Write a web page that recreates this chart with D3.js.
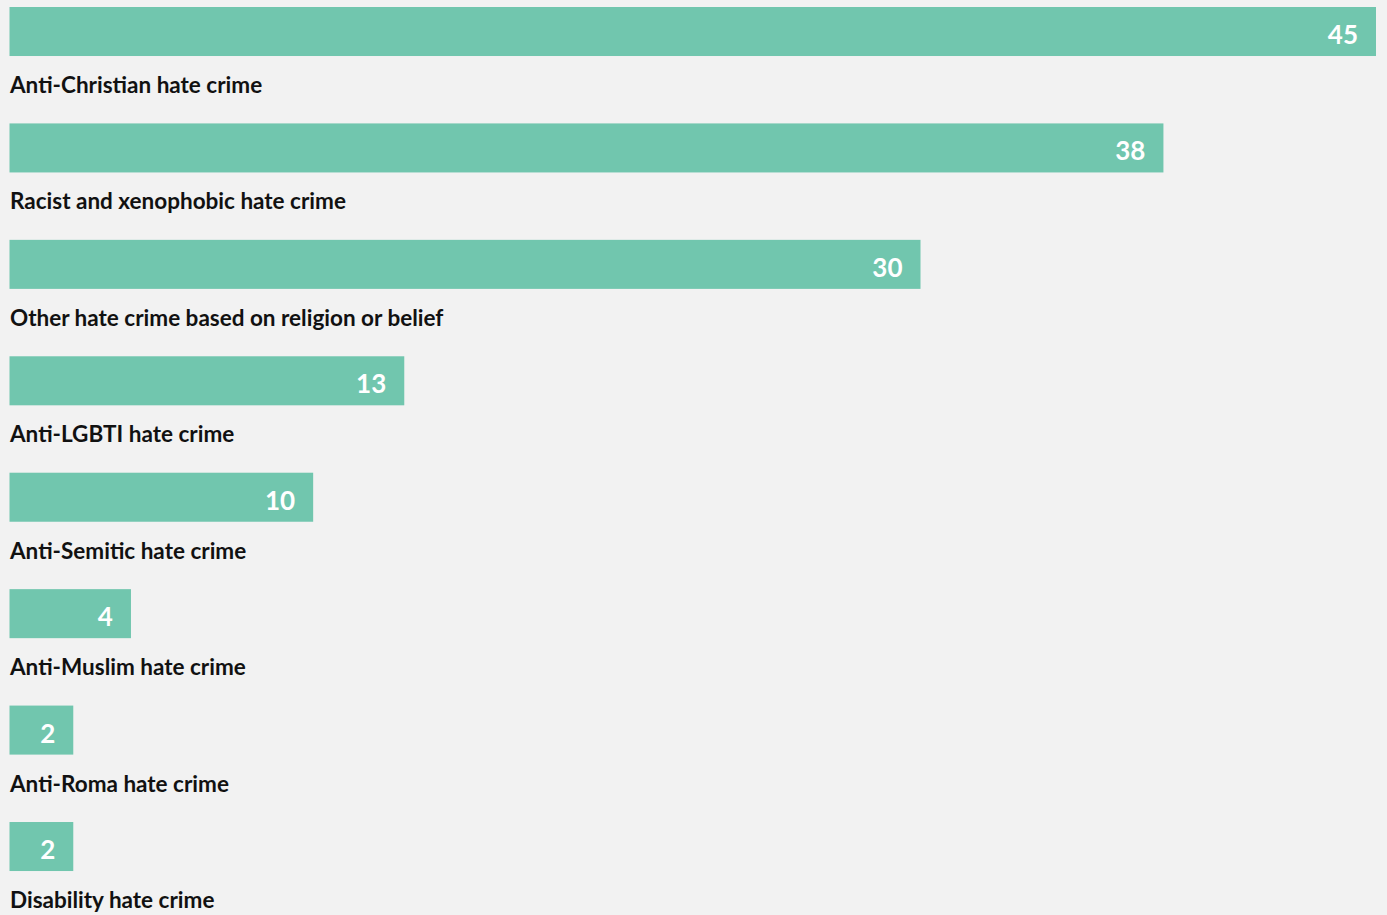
<!DOCTYPE html>
<head>
    <style>
        body { margin: 0; background: #f2f2f2; }
        svg { display: block; }
        text { font-variant-ligatures: none; }
        .cat {
            font: bold 22.5px Lato, sans-serif;
            fill: #111;
        }
        .val {
            font: bold 26px Lato, sans-serif;
            fill: #fff;
            text-anchor: end;
        }
    </style>
    <script src="https://d3js.org/d3.v7.min.js"></script>
</head>
<body>
    <svg width="1387" height="915"></svg>
    <script>
        var categories = [
            "Anti-Christian hate crime",
            "Racist and xenophobic hate crime",
            "Other hate crime based on religion or belief",
            "Anti-LGBTI hate crime",
            "Anti-Semitic hate crime",
            "Anti-Muslim hate crime",
            "Anti-Roma hate crime",
            "Disability hate crime"
        ];
        // the two smallest bars look a touch longer than 2, so the value is estimated
        var values = [45, 38, 30, 13, 10, 4, 2.1, 2.1];

        var svg = d3.select("svg");

        var x = d3.scaleLinear().domain([0, 45]).range([9.5, 1376]);

        var step = 116.43;
        var y = d3.scaleBand()
                  .domain(categories)
                  .range([7, 7 + categories.length * step])
                  .paddingInner(0.579)
                  .paddingOuter(0.2895)
                  .align(0);

        var data = categories.map(function(c, i) { return {cat: c, value: values[i]}; });

        var row = svg.selectAll(".row")
                     .data(data)
                     .enter().append("g")
                     .attr("class", "row")
                     .attr("transform", function(d) { return "translate(0," + y(d.cat) + ")"; });

        row.append("rect")
           .attr("x", x(0))
           .attr("y", 0)
           .attr("width", function(d) { return x(d.value) - x(0); })
           .attr("height", y.bandwidth())
           .attr("fill", "#71c6ae");

        row.append("text")
           .attr("class", "val")
           .attr("x", function(d) { return x(d.value) - 18; })
           .attr("y", 37)
           .text(function(d) { return d3.format(".0f")(d.value); });

        row.append("text")
           .attr("class", "cat")
           .attr("x", 10)
           .attr("y", 86)
           .text(function(d) { return d.cat; });
    </script>
</body>
</html>
